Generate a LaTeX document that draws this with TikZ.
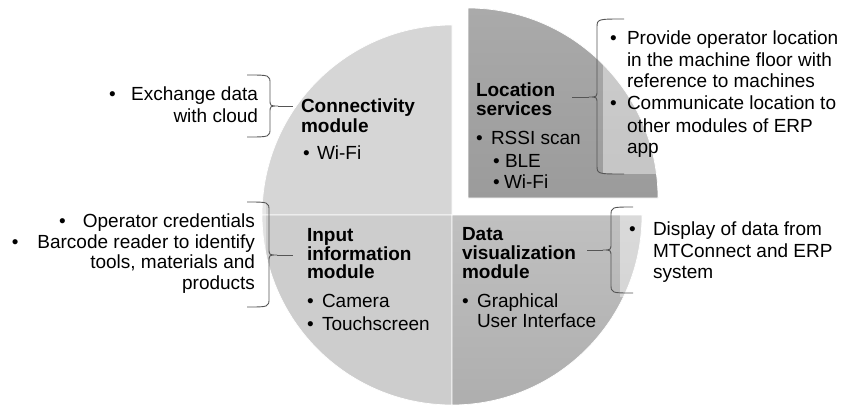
\documentclass[tikz,border=0pt]{standalone}
\usepackage{fontspec}
\setmainfont{Liberation Sans}
\definecolor{qa}{RGB}{214,214,214}
\definecolor{qb}{RGB}{205,205,205}
\definecolor{qcTop}{RGB}{192,192,192}
\definecolor{qcBot}{RGB}{174,174,174}
\definecolor{qdTop}{RGB}{170,170,170}
\definecolor{qdBot}{RGB}{155,155,155}
\definecolor{braceGray}{RGB}{85,85,85}
% curly brace: arm x, spine x, top, mid, bottom, tip x
% (pointing right when arm x < spine x, pointing left otherwise)
\newcommand{\curlybrace}[6]{%
  \draw[brace] (#1,#3) .. controls (#2,#3) .. (#2,#3+9) -- (#2,#4-7)
    .. controls (#2,#4) .. (#6,#4) .. controls (#2,#4) .. (#2,#4+7)
    -- (#2,#5-9) .. controls (#2,#5) .. (#1,#5);}
\begin{document}
\begin{tikzpicture}[x=1pt,y=-1pt,
  every node/.style={inner sep=0pt, outer sep=0pt, font=\fontsize{19}{21}\selectfont},
  title/.style={anchor=base west, font=\fontsize{19}{21}\selectfont\bfseries},
  txt/.style={anchor=base west},
  rtxt/.style={anchor=base east},
  quad/.style={draw=white, line width=0.7pt},
  note/.style={fill=white, fill opacity=0.42},
  brace/.style={draw=braceGray, line width=0.9pt, line join=round},
  lead/.style={draw=braceGray, line width=0.9pt}
]
\useasboundingbox (0,0) rectangle (850,409);

% the four modules as quadrants of a disc
\path[quad, fill=qa] (452,215) -- (262,215) arc[start angle=180, end angle=270, radius=190] -- cycle;
\path[quad, fill=qb] (452,215) -- (452,405) arc[start angle=90, end angle=180, radius=190] -- cycle;
\path[quad, top color=qcTop, bottom color=qcBot] (452,215) -- (642,215) arc[start angle=0, end angle=90, radius=190] -- cycle;
\path[quad, top color=qdTop, bottom color=qdBot] (468,198) -- (468,8) arc[start angle=270, end angle=360, radius=190] -- cycle;

% translucent backgrounds of the notes
\path[note] (100,75) rectangle (262,137);
\path[note] (5,202) rectangle (266,310);
\path[note] (603,19) rectangle (845,174);
\path[note] (620,213) rectangle (845,297);

% braces and their leads
\coordinate (tipA) at (293,106);
\coordinate (tipB) at (293,255);
\coordinate (tipC) at (572,97);
\coordinate (tipD) at (587,250);
\curlybrace{247}{270}{75}{106}{137}{278}
\draw[lead] (278,106) -- (tipA);
\curlybrace{247}{269}{202}{255}{307}{277}
\draw[lead] (277,255) -- (tipB);
\curlybrace{624}{597}{19}{97}{174}{589}
\draw[lead] (589,97) -- (tipC);
\curlybrace{633}{611}{207}{250}{293}{603}
\draw[lead] (603,250) -- (tipD);

% connectivity module
\node[title] (c1) at (301,113) {Connectivity};
\node[title] (c2) at (301,132) {module};
\node[txt] (c3b) at (303,159) {•};
\node[txt] (c3) at (317,159) {Wi-Fi};

% location services
\node[title] (l1) at (476,97) {Location};
\node[title] (l2) at (476,115) {services};
\node[txt] (l3b) at (476,144) {•};
\node[txt] (l3) at (491,144) {RSSI scan};
\node[txt] (l4b) at (493,167) {•};
\node[txt] (l4) at (505,167) {BLE};
\node[txt] (l5b) at (493,188) {•};
\node[txt] (l5) at (504,188) {Wi-Fi};

% input information module
\node[title] (i1) at (307,241) {Input};
\node[title] (i2) at (307,260) {information};
\node[title] (i3) at (307,278) {module};
\node[txt] (i4b) at (307,307) {•};
\node[txt] (i4) at (322,307) {Camera};
\node[txt] (i5b) at (307,330) {•};
\node[txt] (i5) at (322,330) {Touchscreen};

% data visualization module
\node[title] (d1) at (462,240) {Data};
\node[title] (d2) at (462,259) {visualization};
\node[title] (d3) at (462,278) {module};
\node[txt] (d4b) at (462,307) {•};
\node[txt] (d4) at (477,307) {Graphical};
\node[txt] (d5) at (477,327) {User Interface};

% note: connectivity
\node[txt] (na0) at (109,101) {•};
\node[rtxt] (na1) at (258,101) {Exchange data};
\node[rtxt] (na2) at (258,122) {with cloud};

% note: input
\node[txt] (nb0) at (59,227) {•};
\node[rtxt] (nb1) at (255,227) {Operator credentials};
\node[txt] (nb2) at (12,248) {•};
\node[rtxt] (nb3) at (255,248) {Barcode reader to identify};
\node[rtxt] (nb4) at (255,268) {tools, materials and};
\node[rtxt] (nb5) at (255,289) {products};

% note: location
\node[txt] (nc0) at (610,45) {•};
\node[txt] (nc1) at (627,45) {Provide operator location};
\node[txt] (nc2) at (627,67) {in the machine floor with};
\node[txt] (nc3) at (627,88) {reference to machines};
\node[txt] (nc4) at (610,110) {•};
\node[txt] (nc5) at (627,110) {Communicate location to};
\node[txt] (nc6) at (627,132) {other modules of ERP};
\node[txt] (nc7) at (627,153) {app};

% note: data visualization
\node[txt] (nd0) at (629,235) {•};
\node[txt] (nd1) at (653,235) {Display of data from};
\node[txt] (nd2) at (653,257) {MTConnect and ERP};
\node[txt] (nd3) at (653,278) {system};
\end{tikzpicture}
\end{document}
